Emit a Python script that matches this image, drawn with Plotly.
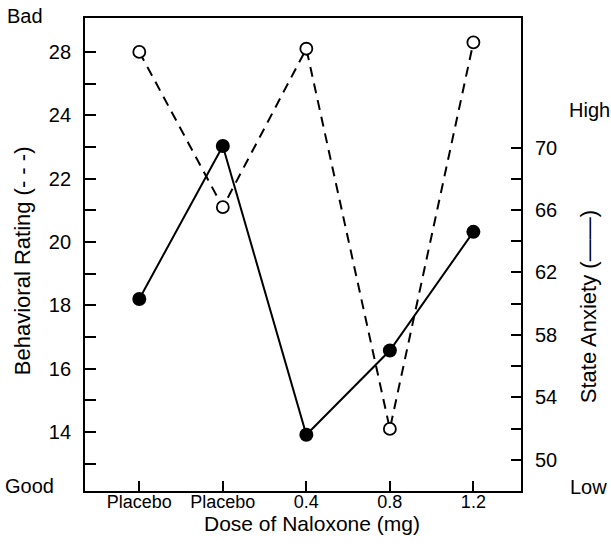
import plotly.graph_objects as go

# ---- data ----
dose_labels = ["Placebo", "Placebo", "0.4", "0.8", "1.2"]
dose_pos = [0, 1, 2, 3, 4]
# Behavioral rating (dashed, open circles, left axis; axis units, top tick printed "28")
behavioral = [26.0, 21.1, 26.1, 14.1, 26.3]
# State anxiety (solid, filled circles, right axis)
anxiety = [60.3, 70.1, 51.6, 57.0, 64.6]

left_tickvals = list(range(13, 27))
left_ticktext = {14: "14", 16: "16", 18: "18", 20: "20", 22: "22", 24: "24", 26: "28"}
right_tickvals = list(range(50, 71, 2))
right_ticktext = {50: "50", 54: "54", 58: "58", 62: "62", 66: "66", 70: "70"}

FONT = "Liberation Sans, Arial, sans-serif"

fig = go.Figure()
fig.add_trace(go.Scatter(
    x=dose_pos, y=anxiety, yaxis="y2", mode="lines+markers",
    line=dict(color="black", width=2),
    marker=dict(symbol="circle", size=14, color="black"),
    showlegend=False, hoverinfo="skip"))
fig.add_trace(go.Scatter(
    x=dose_pos, y=behavioral, mode="lines+markers",
    line=dict(color="black", width=2, dash="10px,7px"),
    marker=dict(symbol="circle", size=12, color="white",
                line=dict(color="black", width=1.8)),
    showlegend=False, hoverinfo="skip"))

fig.update_layout(
    width=611, height=556,
    margin=dict(l=85, r=90, t=18, b=65),
    paper_bgcolor="white", plot_bgcolor="white",
    font=dict(family=FONT, color="black", size=19),
    xaxis=dict(
        range=[-0.65, 4.57], tickmode="array", tickvals=dose_pos, ticktext=dose_labels,
        ticks="inside", ticklen=10, tickwidth=1.5, tickcolor="black",
        showline=True, linecolor="black", linewidth=1.8, mirror=True,
        showgrid=False, zeroline=False, tickfont=dict(size=18),
        ticklabelstandoff=-7),
    yaxis=dict(
        range=[12.14, 27.07], tickmode="array", tickvals=left_tickvals,
        ticktext=[left_ticktext.get(v, "") for v in left_tickvals],
        ticks="inside", ticklen=11, tickwidth=1.5, tickcolor="black",
        showline=True, linecolor="black", linewidth=1.8,
        showgrid=False, zeroline=False, tickfont=dict(size=20),
        ticklabelstandoff=8),
    yaxis2=dict(
        range=[48.0, 78.3], overlaying="y", side="right", tickmode="array",
        tickvals=right_tickvals,
        ticktext=[right_ticktext.get(v, "") for v in right_tickvals],
        ticks="inside", ticklen=10, tickwidth=1.5, tickcolor="black",
        showline=True, linecolor="black", linewidth=1.8,
        showgrid=False, zeroline=False, tickfont=dict(size=20),
        ticklabelstandoff=8),
)

ann = [
    dict(text="Behavioral Rating (- - -)", x=-0.1445, y=0.488, textangle=-90, size=22),
    dict(text="State Anxiety (——)", x=1.1537, y=0.3886, textangle=-90, size=22),
    dict(text="Bad", x=-0.1376, y=1.0032, textangle=0, size=20),
    dict(text="Good", x=-0.1284, y=0.0106, textangle=0, size=20),
    dict(text="High", x=1.156, y=0.8047, textangle=0, size=20),
    dict(text="Low", x=1.1537, y=0.0084, textangle=0, size=20),
    dict(text="Dose of Naloxone (mg)", x=0.5206, y=-0.068, textangle=0, size=21),
]
for a in ann:
    fig.add_annotation(text=a["text"], x=a["x"], y=a["y"], xref="paper", yref="paper",
                       xanchor="center", yanchor="middle", textangle=a["textangle"],
                       showarrow=False, font=dict(family=FONT, size=a["size"], color="black"))

fig.write_html("out.html", config={"displayModeBar": False},
               post_script="document.body.style.margin='0';document.body.style.overflow='hidden';")
